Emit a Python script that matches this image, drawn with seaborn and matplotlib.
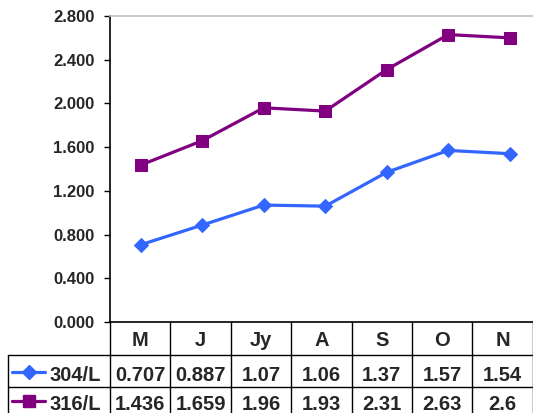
import numpy as np
import pandas as pd
import matplotlib
matplotlib.use('Agg')
import matplotlib.pyplot as plt
import seaborn as sns

# dados do gráfico
meses = ['M', 'J', 'Jy', 'A', 'S', 'O', 'N']
serie_304 = [0.707, 0.887, 1.07, 1.06, 1.37, 1.57, 1.54]
serie_316 = [1.436, 1.659, 1.96, 1.93, 2.31, 2.63, 2.6]
rotulos_304 = ['0.707', '0.887', '1.07', '1.06', '1.37', '1.57', '1.54']
rotulos_316 = ['1.436', '1.659', '1.96', '1.93', '2.31', '2.63', '2.6']
nomes = ['304/L', '316/L']
cores = ['#3366FF', '#800080']
marcadores = ['D', 's']
y_ticks = [0.0, 0.4, 0.8, 1.2, 1.6, 2.0, 2.4, 2.8]

sns.set_style('white')
plt.rcParams['font.family'] = ['Liberation Sans', 'DejaVu Sans']
plt.rcParams['font.weight'] = 'bold'

W, H = 533, 413
fig = plt.figure(figsize=(W / 100, H / 100), dpi=100)

# área do gráfico (em pixels da imagem)
esq, topo, base, larg_cat = 110, 16, 322, 61.5
ax = fig.add_axes([esq / W, (H - base) / H, 7 * larg_cat / W, (base - topo) / H])

for vals, cor, mk, ms in zip([serie_304, serie_316], cores, marcadores, [7, 9]):
    sns.lineplot(x=meses, y=vals, ax=ax, color=cor, marker=mk, markersize=ms,
                 markeredgecolor=cor, linewidth=2.3, sort=False)

ax.set_xlim(-0.5, 6.5)
ax.set_ylim(0, 2.8)
ax.set_yticks(y_ticks)
ax.set_yticklabels([f'{v:.3f}' for v in y_ticks], fontsize=12, fontweight='bold')
ax.set_xticks([])
ax.set_xlabel('')
ax.set_ylabel('')
ax.tick_params(axis='y', direction='out', length=4, width=1, color='black', pad=7, left=True)
ax.spines['left'].set_color('black')
ax.spines['bottom'].set_color('black')
ax.spines['top'].set_color('#c0c0c0')
ax.spines['right'].set_visible(False)
for s in ['left', 'bottom', 'top']:
    ax.spines[s].set_linewidth(1.2)

# tabela de dados abaixo do gráfico
tab = fig.add_axes([0, 0, 1, 1])
tab.set_xlim(0, W)
tab.set_ylim(H, 0)
tab.axis('off')
tab.patch.set_alpha(0)

larg_col = 60.4
bordas = [esq + i * larg_col for i in range(len(meses) + 1)]
linhas_y = [base, 355, 387, 419]
lw = 1.0

for x in bordas:
    tab.plot([x, x], [base, linhas_y[-1]], color='black', lw=lw)
tab.plot([8, 8], [linhas_y[1], linhas_y[-1]], color='black', lw=lw)
for y in linhas_y[1:3]:
    tab.plot([8, bordas[-1]], [y, y], color='black', lw=lw)

fs = 14.5
for i, m in enumerate(meses):
    cx = (bordas[i] + bordas[i + 1]) / 2
    tab.text(cx, 346, m, ha='center', va='baseline', fontsize=fs, fontweight='bold')
    tab.text(cx, 381, rotulos_304[i], ha='center', va='baseline', fontsize=fs, fontweight='bold')
    tab.text(cx, 410, rotulos_316[i], ha='center', va='baseline', fontsize=fs, fontweight='bold')

for nome, cor, mk, ms, yb in zip(nomes, cores, marcadores, [7, 8], [381, 410]):
    yc = yb - 9
    tab.plot([12, 45], [yc, yc], color=cor, lw=2.3)
    tab.plot([28.5], [yc], color=cor, marker=mk, markersize=ms, markeredgecolor=cor)
    tab.text(50, yb, nome, ha='left', va='baseline', fontsize=fs, fontweight='bold')

plt.savefig('out.png', dpi=100)
